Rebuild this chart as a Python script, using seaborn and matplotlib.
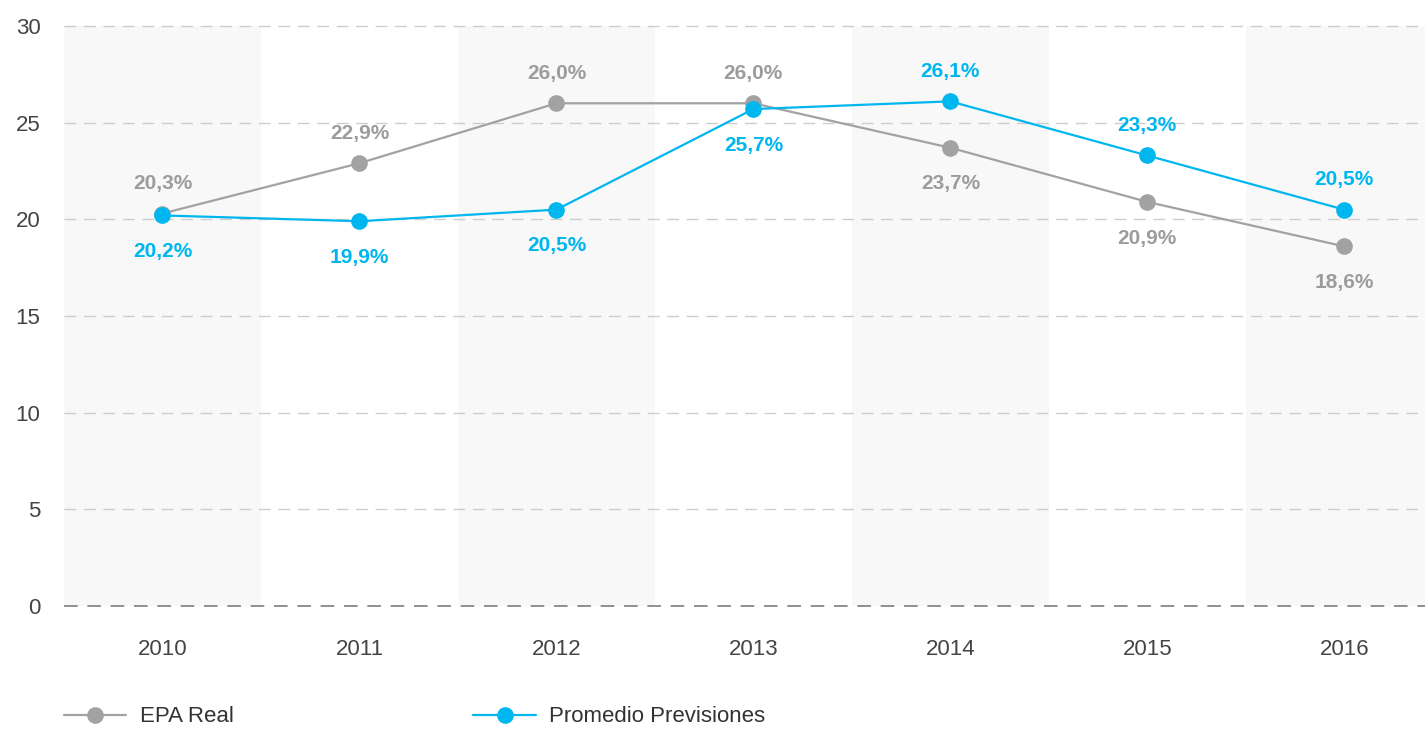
import matplotlib
matplotlib.use("Agg")
import matplotlib.pyplot as plt
import seaborn as sns
import pandas as pd

years = [2010, 2011, 2012, 2013, 2014, 2015, 2016]
epa_real = [20.3, 22.9, 26.0, 26.0, 23.7, 20.9, 18.6]
promedio = [20.2, 19.9, 20.5, 25.7, 26.1, 23.3, 20.5]
series_names = ["EPA Real", "Promedio Previsiones"]
y_ticks = [0, 5, 10, 15, 20, 25, 30]

# which label goes above the point (+1) or below (-1)
epa_side = [1, 1, 1, 1, -1, -1, -1]
prom_side = [-1, -1, -1, -1, 1, 1, 1]

gray = "#a2a2a2"
gray_txt = "#9c9c9c"
blue = "#00b6ef"

df = pd.DataFrame({
    "year": years * 2,
    "value": epa_real + promedio,
    "serie": [series_names[0]] * len(years) + [series_names[1]] * len(years),
})

sns.set_theme(style="white")
plt.rcParams["font.family"] = ["Liberation Sans", "DejaVu Sans"]

fig = plt.figure(figsize=(14.25, 7.3), dpi=100)
ax = fig.add_axes([64 / 1425, 122 / 730, 1 - 64 / 1425, 584 / 730])

# alternating column shading
for i, yr in enumerate(years):
    if i % 2 == 0:
        ax.fill_between([yr - 0.5, yr + 0.5], 0, 30, color="#f8f8f8", zorder=0, lw=0)

# dashed horizontal grid, baseline darker
for t in y_ticks:
    if t == 0:
        ax.axhline(t, linestyle=(0, (7, 5)), color="#8f8f8f", linewidth=1.4, zorder=1)
    else:
        ax.axhline(t, linestyle=(0, (8.5, 5.5)), color="#cdcdcd", linewidth=1, zorder=1)

sns.lineplot(
    data=df, x="year", y="value", hue="serie",
    palette={series_names[0]: gray, series_names[1]: blue},
    marker="o", markersize=12, markeredgewidth=0, linewidth=1.6,
    ax=ax, zorder=3,
)

ax.set_xlim(years[0] - 0.5, years[-1] + 0.41)
ax.set_ylim(-0.1, 30.1)
ax.set_yticks(y_ticks)
ax.set_xticks(years)
ax.set_xticklabels([str(y) for y in years])
ax.set_xlabel("")
ax.set_ylabel("")
ax.grid(False)
for s in ax.spines.values():
    s.set_visible(False)
ax.tick_params(axis="y", length=0, pad=17, labelsize=16, labelcolor="#444444")
ax.tick_params(axis="x", length=0, pad=22, labelsize=16, labelcolor="#444444")

def fmt(v):
    return f"{v:.1f}%".replace(".", ",")

def offset(side):
    return 21.5 if side > 0 else -26

for yr, v, s in zip(years, epa_real, epa_side):
    ax.annotate(fmt(v), (yr, v), xytext=(0, offset(s)), textcoords="offset points",
                ha="center", va="center", fontsize=15, fontweight="bold", color=gray_txt, zorder=4)
for yr, v, s in zip(years, promedio, prom_side):
    ax.annotate(fmt(v), (yr, v), xytext=(0, offset(s)), textcoords="offset points",
                ha="center", va="center", fontsize=15, fontweight="bold", color=blue, zorder=4)

handles, labels = ax.get_legend_handles_labels()
ax.get_legend().remove()
fig.legend(handles, labels, loc="center left", bbox_to_anchor=(64 / 1425, 13 / 730),
           ncol=2, frameon=False, fontsize=16, handlelength=2.8, handletextpad=0.6,
           columnspacing=10.8, borderpad=0, borderaxespad=0, labelcolor="#333333")

fig.savefig("out.png", dpi=100)
